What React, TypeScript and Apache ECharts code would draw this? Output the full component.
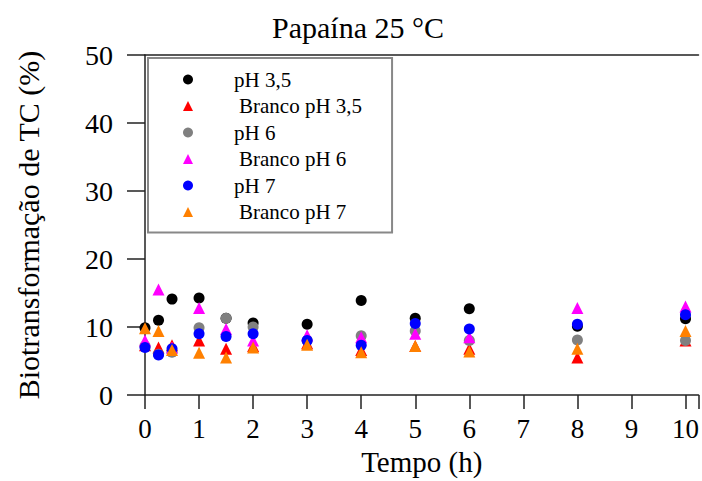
import React, { useEffect, useRef } from "react";
import * as echarts from "echarts";

const times = [0, 0.25, 0.5, 1, 1.5, 2, 3, 4, 5, 6, 8, 10];
const ph35 = [9.9, 11.0, 14.1, 14.25, 11.3, 10.6, 10.4, 13.9, 11.3, 12.7, 10.1, 11.2];
const branco35 = [7.3, 7.0, 7.3, 8.0, 6.8, 7.2, 7.6, 6.6, 7.2, 6.8, 5.5, 8.0];
const ph6 = [7.2, 6.0, 6.3, 9.9, 11.3, 10.0, 8.0, 8.7, 9.4, 8.0, 8.1, 8.0];
const branco6 = [8.0, 15.5, 7.0, 12.8, 9.7, 8.0, 8.8, 8.5, 9.0, 8.5, 12.8, 13.0];
const ph7 = [7.0, 5.9, 6.8, 9.0, 8.6, 9.0, 8.0, 7.3, 10.5, 9.7, 10.4, 11.8];
const branco7 = [9.8, 9.4, 6.6, 6.2, 5.5, 7.0, 7.4, 6.3, 7.2, 6.4, 6.8, 9.4];

const seriesDefs = [
  { name: "pH 3,5", values: ph35, color: "#000000", symbol: "circle", branco: false },
  { name: "Branco pH 3,5", values: branco35, color: "#ff0000", symbol: "triangle", branco: true },
  { name: "pH 6", values: ph6, color: "#808080", symbol: "circle", branco: false },
  { name: "Branco pH 6", values: branco6, color: "#ff00ff", symbol: "triangle", branco: true },
  { name: "pH 7", values: ph7, color: "#0000ff", symbol: "circle", branco: false },
  { name: "Branco pH 7", values: branco7, color: "#ff8000", symbol: "triangle", branco: true },
];

const FONT = "'Liberation Serif', 'Times New Roman', serif";

export default function App() {
  const ref = useRef<HTMLDivElement>(null);
  useEffect(() => {
    if (!ref.current) return;
    const chart = echarts.init(ref.current, null, { renderer: "svg" });
    const axisLineStyle = { color: "#222", width: 1.5 };
    chart.setOption({
      animation: false,
      backgroundColor: "#ffffff",
      title: {
        text: "Papaína 25 °C",
        left: 353,
        top: 7,
        textAlign: "center",
        textStyle: { fontFamily: FONT, fontSize: 30, fontWeight: "normal", color: "#000" },
      },
      grid: { left: 145, right: 0, top: 55, bottom: 81 },
      legend: {
        orient: "vertical",
        left: 148,
        top: 58,
        padding: [11, 30, 10, 35],
        itemWidth: 10,
        itemHeight: 10,
        itemGap: 5.5,
        borderColor: "#888",
        borderWidth: 2,
        backgroundColor: "#fff",
        textStyle: { fontFamily: FONT, fontSize: 21, color: "#000", lineHeight: 20, padding: [0, 0, 0, 36] },
        data: seriesDefs.map((s) => ({
          name: s.name,
          icon: s.symbol,
          itemStyle: { opacity: 1 },
          textStyle: { padding: [0, 0, 0, s.branco ? 41 : 36] },
        })),
      },
      xAxis: [
        {
          type: "value",
          min: 0,
          max: 10.24,
          interval: 1,
          offset: 2,
          axisLine: { show: true, lineStyle: axisLineStyle },
          axisTick: { show: true, length: 14, lineStyle: axisLineStyle },
          axisLabel: {
            margin: 18,
            fontFamily: FONT,
            fontSize: 27,
            color: "#000",
            formatter: (v: number) => (Number.isInteger(v) ? String(v) : ""),
          },
          splitLine: { show: false },
          name: "Tempo (h)",
          nameLocation: "middle",
          nameGap: 50,
          nameTextStyle: { fontFamily: FONT, fontSize: 29, color: "#000" },
        },
        {
          type: "value",
          position: "top",
          min: 0,
          max: 10.24,
          axisLine: { show: true, lineStyle: axisLineStyle },
          axisTick: { show: false },
          axisLabel: { show: false },
          splitLine: { show: false },
        },
      ],
      yAxis: {
        type: "value",
        min: 0,
        max: 50,
        interval: 10,
        offset: 2,
        axisLine: { show: true, lineStyle: axisLineStyle },
        axisTick: { show: true, length: 18, lineStyle: axisLineStyle },
        axisLabel: { margin: 30, fontFamily: FONT, fontSize: 28, color: "#000" },
        splitLine: { show: false },
        name: "Biotransformação de TC (%)",
        nameLocation: "middle",
        nameGap: 100,
        nameTextStyle: { fontFamily: FONT, fontSize: 30, color: "#000" },
      },
      series: seriesDefs.map((s) => ({
        type: "scatter",
        name: s.name,
        symbol: s.symbol,
        symbolSize: s.symbol === "circle" ? 11 : 12,
        itemStyle: { color: s.color, opacity: 1 },
        clip: true,
        data: times.map((t, i) => [t, s.values[i]]),
      })),
    });
    return () => chart.dispose();
  }, []);
  return (
    <div
      ref={ref}
      style={{ position: "absolute", left: 0, top: 0, width: 702, height: 481 }}
    />
  );
}
